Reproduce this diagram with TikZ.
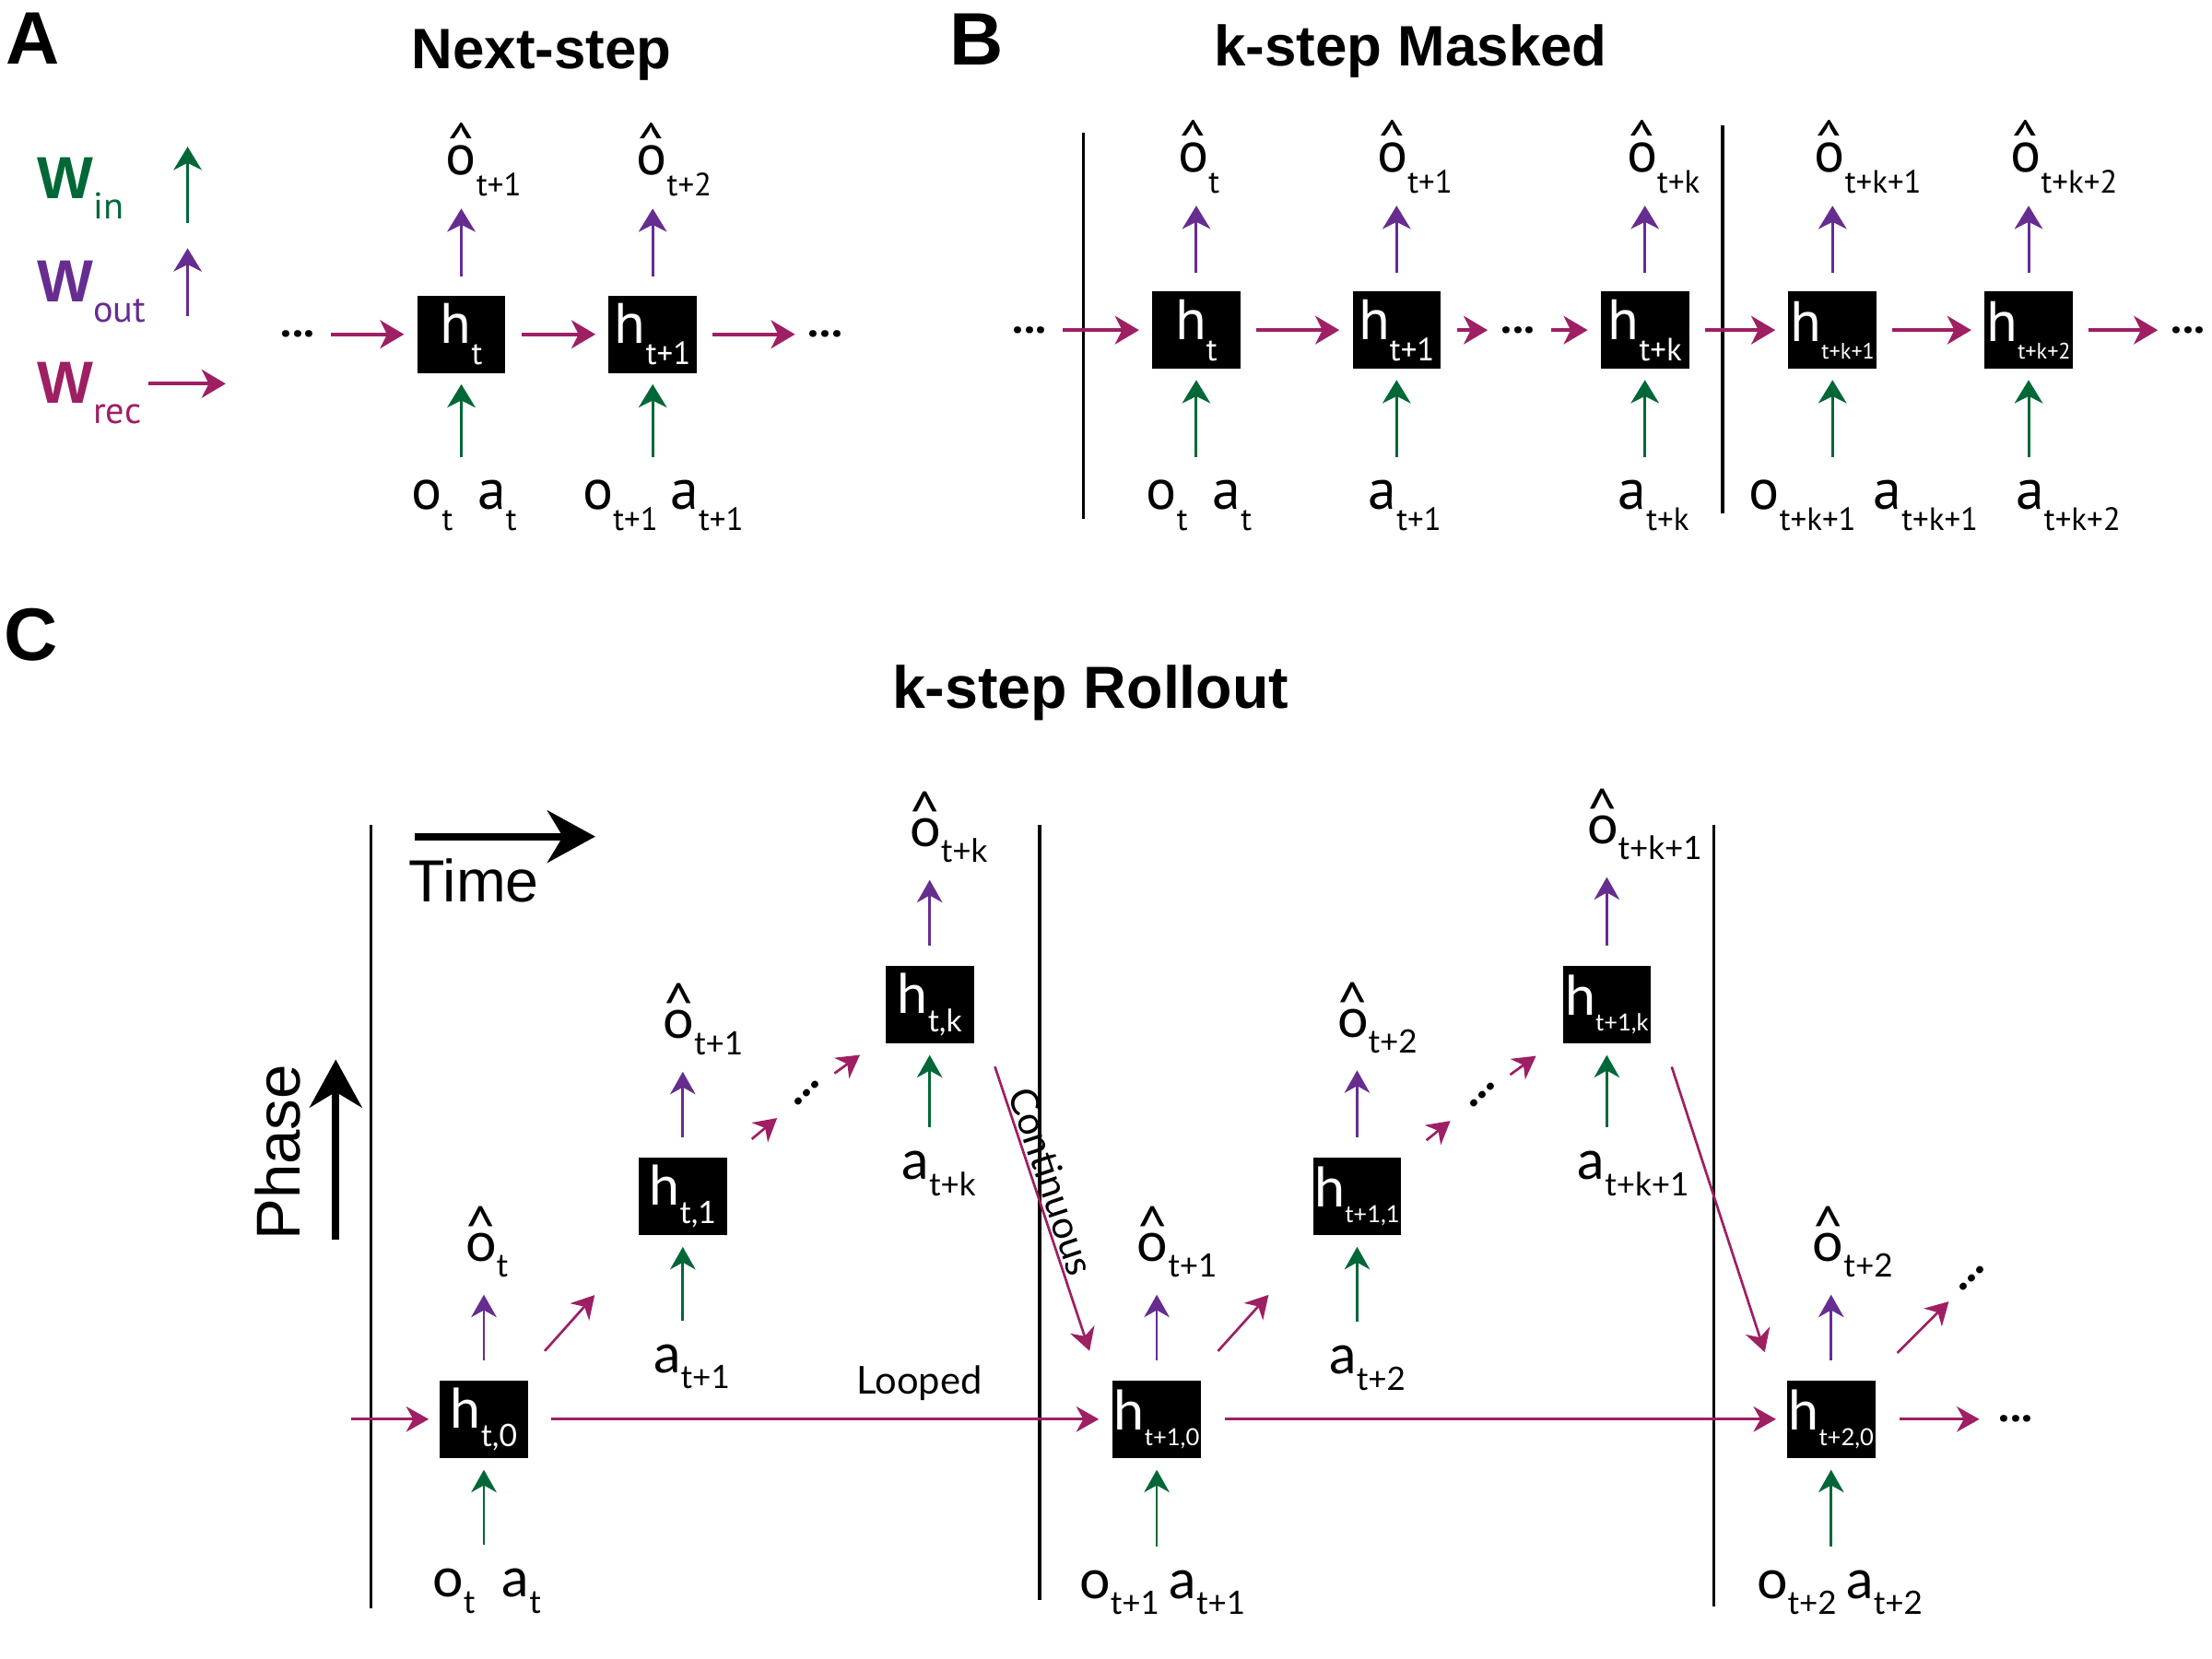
\documentclass[tikz,border=0pt]{standalone}
\usepackage{fontspec}
\setmainfont{Liberation Sans}
\newfontfamily\labfont{PT Sans}
\newfontfamily\rollfont{Lato}
\usetikzlibrary{arrows.meta, positioning}
\definecolor{inc}{RGB}{0, 104, 55}
\definecolor{outc}{RGB}{102, 45, 145}
\definecolor{recc}{RGB}{158, 31, 99}
\newcommand{\fsz}[1]{\fontsize{#1}{#1}\selectfont}
\newcommand{\ohat}{\ooalign{o\cr\hidewidth\raisebox{0.2em}{\textasciicircum}\hidewidth\cr}}
\newcommand{\ohatc}{\ooalign{o\cr\hidewidth\raisebox{0.28em}{\textasciicircum}\hidewidth\cr}}
\newcommand{\lsub}[1]{\raisebox{-8.5pt}{\fsz{13}#1}}
\newcommand{\csub}[1]{\raisebox{-6.5pt}{\fsz{13}#1}}
\newcommand{\hsub}[1]{\raisebox{-8.5pt}{\fsz{13}#1}}
\newcommand{\hsubs}[1]{\raisebox{-7pt}{\fsz{9}#1}}
\newcommand{\hcsub}[1]{\raisebox{-7.4pt}{\fsz{12.5}#1}}
\newcommand{\hcsubs}[1]{\raisebox{-6.5pt}{\fsz{9.5}#1}}
\newcommand{\wsub}[1]{\raisebox{-8pt}{\labfont\mdseries\fsz{15}#1}}

\begin{document}
\begin{tikzpicture}[
    x=0.02cm, y=-0.02cm,
    panel/.style={font=\bfseries\fsz{30}, inner sep=0pt},
    paneltitle/.style={font=\bfseries\fsz{23}, anchor=base, inner sep=0pt},
    hbox/.style={rectangle, fill=black, text=white, minimum width=1.25cm, minimum height=1.1cm, inner sep=0pt, font=\labfont\fsz{23}},
    hroll/.style={hbox, font=\rollfont\fsz{22}},
    lab/.style={anchor=base, inner sep=1pt, font=\labfont\fsz{23}},
    rlab/.style={anchor=base, inner sep=1pt, font=\rollfont\fsz{22}},
    ellip/.style={inner sep=0pt, font=\labfont\bfseries\fsz{18}},
    divider/.style={line width=1.2pt},
    inarrow/.style={draw=inc, line width=1.1pt, -{Stealth[length=0.33cm, width=0.4cm, inset=0.1cm]}, shorten <=0.28cm, shorten >=0.15cm},
    outarrow/.style={draw=outc, line width=1.1pt, -{Stealth[length=0.33cm, width=0.4cm, inset=0.1cm]}, shorten <=0.26cm, shorten >=0.13cm},
    recarrow/.style={draw=recc, line width=1.5pt, -{Stealth[length=0.34cm, width=0.4cm, inset=0.1cm]}, shorten <=0.22cm, shorten >=0.18cm},
    inroll/.style={draw=inc, line width=1pt, -{Stealth[length=0.32cm, width=0.36cm, inset=0.1cm]}, shorten <=0.3cm, shorten >=0.16cm},
    outroll/.style={draw=outc, line width=1pt, -{Stealth[length=0.32cm, width=0.36cm, inset=0.1cm]}, shorten <=0.28cm, shorten >=0.2cm},
    recroll/.style={draw=recc, line width=1pt, -{Stealth[length=0.32cm, width=0.36cm, inset=0.1cm]}},
    bigarrow/.style={line width=3pt, -{Stealth[length=0.68cm, width=0.74cm, inset=0.22cm]}}
]
    \useasboundingbox (0,0) rectangle (1568,1176);

    % panel A: next-step
    \node[panel] (lA) at (23,27) {A};
    \node[paneltitle] (tA) at (384,49) {Next-step};
    \node[anchor=base west, inner sep=0pt, font=\bfseries\fsz{24}, text=inc] (win) at (26,141) {W\wsub{in}};
    \node[anchor=base west, inner sep=0pt, font=\bfseries\fsz{24}, text=outc] (wout) at (26,214) {W\wsub{out}};
    \node[anchor=base west, inner sep=0pt, font=\bfseries\fsz{24}, text=recc] (wrec) at (26,286) {W\wsub{rec}};
    \coordinate (winB) at (133,158);
    \coordinate (winT) at (133,104);
    \coordinate (woutB) at (133,224);
    \coordinate (woutT) at (133,176);
    \coordinate (wrecL) at (105,272);
    \coordinate (wrecR) at (160,272);
    \draw[inarrow, shorten <=0pt, shorten >=0pt] (winB) -- (winT);
    \draw[outarrow, shorten <=0pt, shorten >=0pt] (woutB) -- (woutT);
    \draw[recarrow, shorten <=0pt, shorten >=0pt] (wrecL) -- (wrecR);

    \node[hbox] (hA1) at (327,237) {h\hsub{t}};
    \node[hbox, right=1.45cm of hA1] (hA2) {h\hsub{t+1}};
    \node[ellip] (dA0) at (211,237) {...};
    \node[ellip] (dA1) at (585,237) {...};
    \node[lab] (oA1) at (327,124) {\ohat\rlap{\lsub{t+1}}};
    \node[lab] (oA2) at (462,124) {\ohat\rlap{\lsub{t+2}}};
    \node[lab] (iA1) at (329,361) {o\lsub{t}\hspace{10pt}a\lsub{t}};
    \node[lab] (iA2) at (470,361) {o\lsub{t+1}\hspace{5pt}a\lsub{t+1}};
    \draw[recarrow] (dA0) -- (hA1);
    \draw[recarrow] (hA1) -- (hA2);
    \draw[recarrow] (hA2) -- (dA1);
    \draw[outarrow] (hA1) -- (oA1.south -| hA1);
    \draw[outarrow] (hA2) -- (oA2.south -| hA2);
    \draw[inarrow] (iA1.north -| hA1) -- (hA1);
    \draw[inarrow] (iA2.north -| hA2) -- (hA2);

    % panel B: k-step masked
    \node[panel] (lB) at (692,28) {B};
    \node[paneltitle] (tB) at (1000,47) {k-step Masked};
    \draw[divider] (768,94) -- (768,368);
    \draw[divider] (1221,89) -- (1221,364);
    \node[hbox] (hB1) at (848,234) {h\hsub{t}};
    \node[hbox] (hB2) at (990,234) {h\hsub{t+1}};
    \node[hbox] (hB3) at (1166,234) {h\hsub{t+k}};
    \node[hbox] (hB4) at (1299,234) {h\hsubs{t+k+1}};
    \node[hbox] (hB5) at (1438,234) {h\hsubs{t+k+2}};
    \node[ellip] (dB0) at (730,234) {...};
    \node[ellip] (dB1) at (1076,234) {...};
    \node[ellip] (dB2) at (1551,234) {...};
    \node[lab] (oB1) at (846,122) {\ohat\rlap{\lsub{t}}};
    \node[lab] (oB2) at (987,122) {\ohat\rlap{\lsub{t+1}}};
    \node[lab] (oB3) at (1164,122) {\ohat\rlap{\lsub{t+k}}};
    \node[lab] (oB4) at (1297,122) {\ohat\rlap{\lsub{t+k+1}}};
    \node[lab] (oB5) at (1436,122) {\ohat\rlap{\lsub{t+k+2}}};
    \node[lab] (iB1) at (850,361) {o\lsub{t}\hspace{10pt}a\lsub{t}};
    \node[lab] (iB2) at (980,361) {a\rlap{\lsub{t+1}}};
    \node[lab] (iB3) at (1157,361) {a\rlap{\lsub{t+k}}};
    \node[lab] (iB4) at (1321,361) {o\lsub{t+k+1}\hspace{7pt}a\lsub{t+k+1}};
    \node[lab] (iB5) at (1439,361) {a\rlap{\lsub{t+k+2}}};
    \draw[recarrow] (dB0) -- (hB1);
    \draw[recarrow] (hB1) -- (hB2);
    \draw[recarrow] (hB2) -- (dB1);
    \draw[recarrow] (dB1) -- (hB3);
    \draw[recarrow] (hB3) -- (hB4);
    \draw[recarrow] (hB4) -- (hB5);
    \draw[recarrow] (hB5) -- (dB2);
    \draw[outarrow] (hB1) -- (oB1.south -| hB1);
    \draw[outarrow] (hB2) -- (oB2.south -| hB2);
    \draw[outarrow] (hB3) -- (oB3.south -| hB3);
    \draw[outarrow] (hB4) -- (oB4.south -| hB4);
    \draw[outarrow] (hB5) -- (oB5.south -| hB5);
    \draw[inarrow] (iB1.north -| hB1) -- (hB1);
    \draw[inarrow] (iB2.north -| hB2) -- (hB2);
    \draw[inarrow] (iB3.north -| hB3) -- (hB3);
    \draw[inarrow] (iB4.north -| hB4) -- (hB4);
    \draw[inarrow] (iB5.north -| hB5) -- (hB5);

    % panel C: k-step rollout
    \node[panel] (lC) at (22,450) {C};
    \node[paneltitle, font=\bfseries\fsz{24}] (tC) at (773,502) {k-step Rollout};
    \draw[divider] (263,585) -- (263,1140);
    \draw[divider] (737,585) -- (737,1134);
    \draw[divider] (1215,585) -- (1215,1139);
    \coordinate (timeL) at (294,593);
    \coordinate (timeR) at (422,593);
    \draw[bigarrow] (timeL) -- (timeR);
    \node[anchor=base, inner sep=0pt, font=\fsz{24}] (time) at (336,639) {Time};
    \coordinate (phaseB) at (238,879);
    \coordinate (phaseT) at (238,751);
    \draw[bigarrow] (phaseB) -- (phaseT);
    \node[rotate=90, inner sep=0pt, font=\fsz{25}] (phase) at (197,817) {Phase};

    \node[hroll] (hC0) at (343,1006) {h\hcsub{t,0}};
    \node[hroll] (hC1) at (484,848) {h\hcsub{t,1}};
    \node[hroll] (hCk) at (659,712) {h\hcsub{t,k}};
    \node[hroll] (hC10) at (820,1006) {h\hcsubs{t+1,0}};
    \node[hroll] (hC11) at (962,848) {h\hcsubs{t+1,1}};
    \node[hroll] (hC1k) at (1139,712) {h\hcsubs{t+1,k}};
    \node[hroll] (hC20) at (1298,1006) {h\hcsubs{t+2,0}};

    \node[rlab] (oC0) at (341,894) {\ohatc\rlap{\csub{t}}};
    \node[rlab] (oC1) at (481,736) {\ohatc\rlap{\csub{t+1}}};
    \node[rlab] (oCk) at (656,600) {\ohatc\rlap{\csub{t+k}}};
    \node[rlab] (oC10) at (817,894) {\ohatc\rlap{\csub{t+1}}};
    \node[rlab] (oC11) at (959,735) {\ohatc\rlap{\csub{t+2}}};
    \node[rlab] (oC1k) at (1136,598) {\ohatc\rlap{\csub{t+k+1}}};
    \node[rlab] (oC20) at (1296,894) {\ohatc\rlap{\csub{t+2}}};
    \node[rlab] (iC0) at (345,1132) {o\csub{t}\hspace{11pt}a\csub{t}};
    \node[rlab] (iC1) at (473,973) {a\rlap{\csub{t+1}}};
    \node[rlab] (iCk) at (649,836) {a\rlap{\csub{t+k}}};
    \node[rlab] (iC10) at (824,1133) {o\csub{t+1}\hspace{4pt}a\csub{t+1}};
    \node[rlab] (iC11) at (952,974) {a\rlap{\csub{t+2}}};
    \node[rlab] (iC1k) at (1128,836) {a\rlap{\csub{t+k+1}}};
    \node[rlab] (iC20) at (1304,1133) {o\csub{t+2}\hspace{4pt}a\csub{t+2}};

    \node[ellip, rotate=45] (dC1) at (572,775) {...};
    \node[ellip, rotate=45] (dC2) at (1051,776) {...};
    \node[ellip, rotate=45] (dC3) at (1398,906) {...};
    \node[ellip] (dC4) at (1429,1006) {...};
    \coordinate (inC) at (249,1006);

    \draw[recroll, shorten >=0.15cm] (inC) -- (hC0);
    \draw[recroll, shorten <=0.32cm, shorten >=0.19cm] (hC0) -- node[pos=0.67, above=7pt, inner sep=0pt, font=\rollfont\fsz{15.5}] (looped) {Looped} (hC10);
    \draw[recroll, shorten <=0.33cm, shorten >=0.15cm] (hC10) -- (hC20);
    \draw[recroll, shorten <=0.34cm, shorten >=0.27cm] (hC20) -- (dC4);
    \draw[recroll, shorten <=0.93cm, shorten >=1.02cm] (hCk.east) -- node[pos=0.44, sloped, above, inner sep=1pt, font=\rollfont\fsz{15.5}] (cont) {Continuous} (hC10.west);
    \draw[recroll, shorten <=0.93cm, shorten >=1.0cm] (hC1k.east) -- (hC20.west);
    \draw[recroll, shorten <=0.55cm, shorten >=1.13cm] (hC0) -- (hC1);
    \draw[recroll, shorten <=0.45cm, shorten >=0.3cm] (hC1) -- (dC1);
    \draw[recroll, shorten <=0.23cm, shorten >=0.44cm] (dC1) -- (hCk);
    \draw[recroll, shorten <=0.55cm, shorten >=1.13cm] (hC10) -- (hC11);
    \draw[recroll, shorten <=0.45cm, shorten >=0.34cm] (hC11) -- (dC2);
    \draw[recroll, shorten <=0.23cm, shorten >=0.46cm] (dC2) -- (hC1k);
    \draw[recroll, shorten <=0.54cm, shorten >=0.22cm] (hC20) -- (dC3);

    \draw[outroll] (hC0) -- (oC0.south -| hC0);
    \draw[outroll] (hC1) -- (oC1.south -| hC1);
    \draw[outroll] (hCk) -- (oCk.south -| hCk);
    \draw[outroll] (hC10) -- (oC10.south -| hC10);
    \draw[outroll] (hC11) -- (oC11.south -| hC11);
    \draw[outroll] (hC1k) -- (oC1k.south -| hC1k);
    \draw[outroll] (hC20) -- (oC20.south -| hC20);
    \draw[inroll] (iC0.north -| hC0) -- (hC0);
    \draw[inroll] (iC1.north -| hC1) -- (hC1);
    \draw[inroll] (iCk.north -| hCk) -- (hCk);
    \draw[inroll] (iC10.north -| hC10) -- (hC10);
    \draw[inroll] (iC11.north -| hC11) -- (hC11);
    \draw[inroll] (iC1k.north -| hC1k) -- (hC1k);
    \draw[inroll] (iC20.north -| hC20) -- (hC20);
\end{tikzpicture}
\end{document}
